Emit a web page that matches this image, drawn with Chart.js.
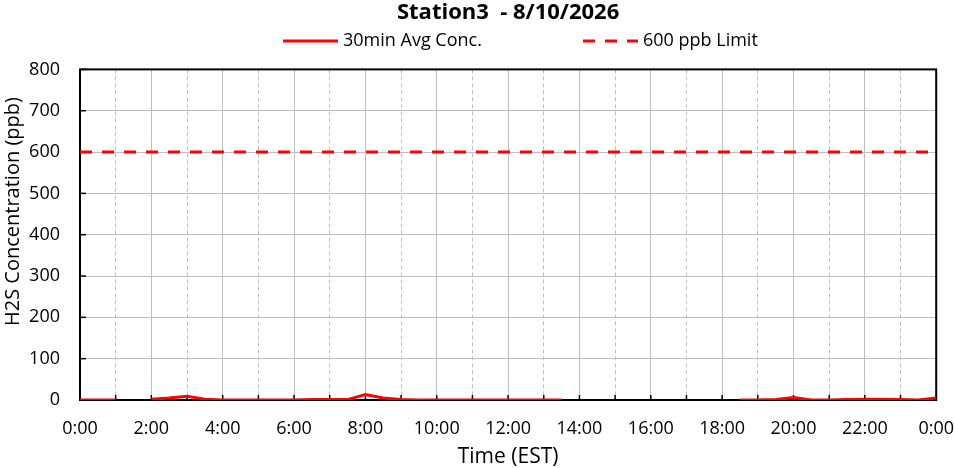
<!DOCTYPE html>
<html>
<head>
<meta charset="utf-8">
<script src="https://cdn.jsdelivr.net/npm/chart.js@4/dist/chart.umd.min.js"></script>
<style>
  html, body { margin: 0; padding: 0; background: #fff; }
  #contenedor { width: 954px; height: 468px; position: relative; }
</style>
</head>
<body>
<div id="contenedor"><canvas id="graficoEstacion"></canvas></div>
<script>
/* Datos de la estacion (medias de 30 min) */
const titulo = "Station3  - 8/10/2026";
const tituloY = "H2S Concentration (ppb)";
const horas = [0, 0.5, 1, 1.5, 2, 2.5, 3, 3.5, 4, 4.5, 5, 5.5, 6, 6.5, 7, 7.5, 8, 8.5, 9, 9.5,
  10, 10.5, 11, 11.5, 12, 12.5, 13, 13.5, 14, 14.5, 15, 15.5, 16, 16.5, 17, 17.5, 18, 18.5,
  19, 19.5, 20, 20.5, 21, 21.5, 22, 22.5, 23, 23.5, 24];
const concentracion = [0, 0, 0, null, 2, 5, 9, 2, 0, 0, 0, 0, 0, 1, 1, 1, 13, 5, 1, 0,
  0, 0, 0, 0, 0, 0, 0, 0, null, null, null, null, null, null, null, null, null, 0,
  0, 1, 6, 0, 0, 1, 2, 2, 1, 0, 5];
const horasLimite = [0, 24];
const limite = [600, 600];
const etiquetasX = ["0:00", "2:00", "4:00", "6:00", "8:00", "10:00", "12:00",
  "14:00", "16:00", "18:00", "20:00", "22:00", "0:00"];
const etiquetasY = [0, 100, 200, 300, 400, 500, 600, 700, 800];

const fuente = "'Open Sans', 'DejaVu Sans', sans-serif";
const gris = "#bfbfbf";

// marco negro del area de trazado + marcas interiores
const marcoPlugin = {
  id: "marco",
  beforeDatasetsDraw(chart) {
    const { ctx, chartArea: a, scales } = chart;
    ctx.save();
    ctx.strokeStyle = "#000";
    ctx.lineWidth = 1.5;
    for (let h = 0; h <= 24; h++) {
      const px = scales.x.getPixelForValue(h);
      ctx.beginPath();
      ctx.moveTo(px, a.bottom);
      ctx.lineTo(px, a.bottom - 5);
      ctx.stroke();
    }
    etiquetasY.forEach(v => {
      const py = scales.y.getPixelForValue(v);
      ctx.beginPath();
      ctx.moveTo(a.left, py);
      ctx.lineTo(a.left + 6, py);
      ctx.stroke();
    });
    ctx.lineWidth = 2;
    ctx.strokeRect(a.left, a.top, a.right - a.left, a.bottom - a.top);
    ctx.restore();
  }
};

// leyenda con el separado del original y titulo del eje Y (algo por encima del centro)
const leyendaPlugin = {
  id: "leyenda",
  afterDraw(chart) {
    const { ctx, chartArea: a } = chart;
    const posiciones = [283, 583];
    ctx.save();
    ctx.font = "18px " + fuente;
    ctx.textBaseline = "middle";
    chart.data.datasets.forEach((ds, i) => {
      const x0 = posiciones[i];
      const y = 41;
      ctx.strokeStyle = ds.borderColor;
      ctx.lineWidth = ds.borderWidth;
      ctx.setLineDash(ds.borderDash || []);
      ctx.beginPath();
      ctx.moveTo(x0, y);
      ctx.lineTo(x0 + 55, y);
      ctx.stroke();
      ctx.setLineDash([]);
      ctx.fillStyle = "#000";
      ctx.fillText(ds.label, x0 + 60, y);
    });

    ctx.font = "20px " + fuente;
    ctx.textAlign = "center";
    ctx.translate(13, a.top + (a.bottom - a.top) * 0.43);
    ctx.rotate(-Math.PI / 2);
    ctx.fillText(tituloY, 0, 0);
    ctx.restore();
  }
};

let ctx = document.getElementById("graficoEstacion").getContext("2d");

let graficoEstacion = new Chart(ctx, {
  type: "line",
  data: {
    datasets: [{
        label: "30min Avg Conc.",
        data: horas.map((h, i) => ({ x: h, y: concentracion[i] })),
        borderColor: "#ff0000",
        borderWidth: 3,
        pointRadius: 0,
        spanGaps: false,
        tension: 0,
      },
      {
        label: "600 ppb Limit",
        data: horasLimite.map((h, i) => ({ x: h, y: limite[i] })),
        borderColor: "#ff0000",
        borderWidth: 3,
        borderDash: [12, 10],
        pointRadius: 0,
      },
    ],
  },
  options: {
    responsive: true,
    maintainAspectRatio: false,
    animation: false,
    layout: { padding: { top: 0, right: 4, bottom: 0, left: 0 } },
    plugins: {
      legend: { display: false },
      tooltip: { enabled: false },
      title: {
        display: true,
        fullSize: false,
        text: titulo,
        color: "#000",
        font: { family: fuente, size: 22, weight: "bold" },
        padding: { top: 0, bottom: 43 },
      },
    },
    scales: {
      x: {
        type: "linear",
        min: 0,
        max: 24,
        afterFit(scale) { scale.height = 68; },
        ticks: {
          stepSize: 1,
          autoSkip: false,
          maxRotation: 0,
          padding: 0,
          color: "#000",
          font: { family: fuente, size: 18 },
          callback: v => (v % 2 === 0 ? etiquetasX[v / 2] : ""),
        },
        grid: {
          color: gris,
          lineWidth: 1,
          drawTicks: true,
          tickLength: 18,
          tickColor: "rgba(0,0,0,0)",
        },
        border: {
          display: false,
          dash: c => (c.tick && c.tick.value % 2 === 1 ? [4, 3] : []),
        },
        title: {
          display: true,
          text: "Time (EST)",
          color: "#000",
          font: { family: fuente, size: 21 },
          padding: { top: 0, bottom: -2 },
        },
      },
      y: {
        min: 0,
        max: 800,
        afterFit(scale) { scale.width = 80; },
        ticks: {
          stepSize: 100,
          padding: 20,
          color: "#000",
          font: { family: fuente, size: 18 },
        },
        grid: { color: gris, lineWidth: 1, drawTicks: false },
        border: { display: false },
      },
    },
  },
  plugins: [marcoPlugin, leyendaPlugin],
});
</script>
</body>
</html>
